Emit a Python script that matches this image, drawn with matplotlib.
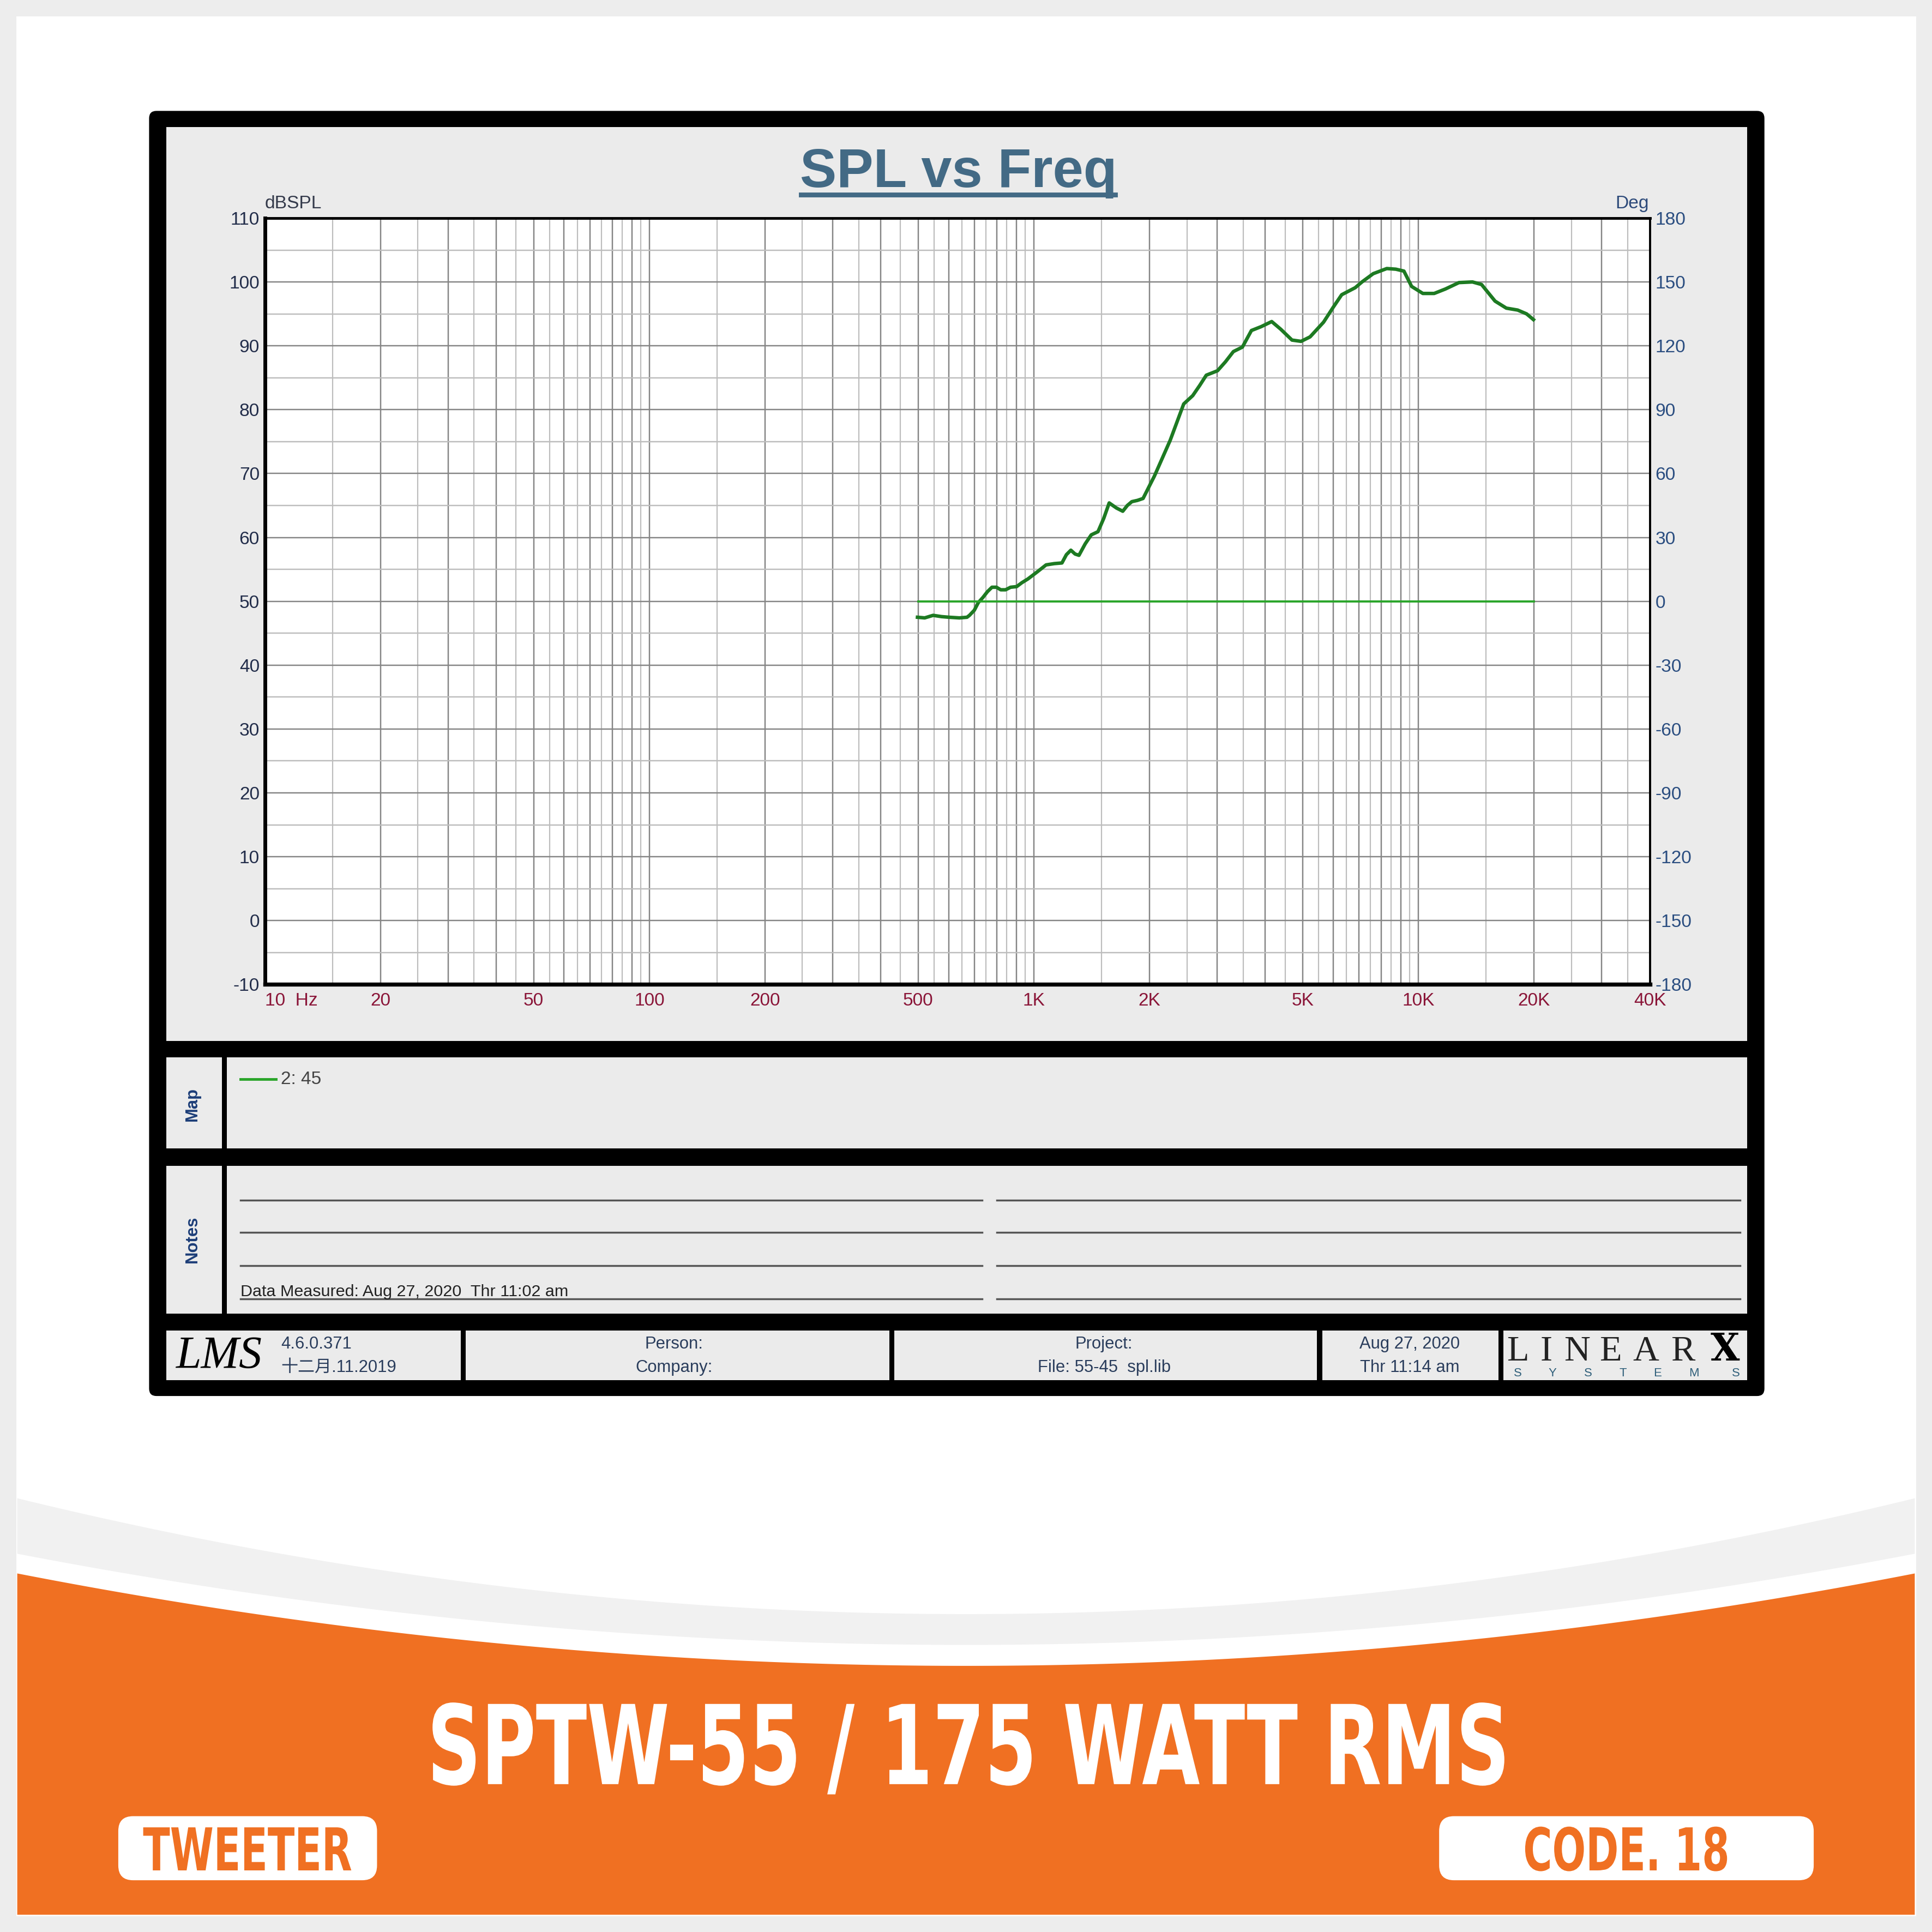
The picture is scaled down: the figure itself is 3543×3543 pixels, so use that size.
import numpy as np
import matplotlib.pyplot as plt
from matplotlib.patches import FancyBboxPatch, Polygon, Rectangle
from matplotlib.patheffects import AbstractPathEffect
from matplotlib.transforms import Affine2D

# SPL curve (Hz, dBSPL)
freq = [498, 520, 547, 575, 602, 640, 670, 680, 700, 717, 737, 757, 778, 799, 820,
        844, 870, 902, 930, 965, 1020, 1076, 1130, 1183, 1215, 1248, 1280, 1310,
        1360, 1410, 1468, 1520, 1570, 1640, 1703, 1750, 1798, 1860, 1923, 2058,
        2262, 2453, 2589, 2700, 2808, 3004, 3150, 3303, 3486, 3680, 3900, 4155,
        4386, 4692, 4953, 5228, 5668, 6000, 6318, 6850, 7134, 7633, 8276, 8736,
        9171, 9603, 10273, 10992, 11761, 12752, 13827, 14600, 15830, 16936, 18122,
        19125, 19925]
spl = [47.5, 47.4, 47.8, 47.6, 47.5, 47.4, 47.5, 47.8, 48.6, 49.8, 50.6, 51.5,
       52.2, 52.2, 51.8, 51.8, 52.2, 52.3, 52.9, 53.5, 54.6, 55.7, 55.9, 56.0,
       57.3, 58.0, 57.4, 57.2, 59.0, 60.4, 60.9, 63.0, 65.4, 64.6, 64.1, 65.0,
       65.6, 65.8, 66.1, 69.6, 75.2, 80.9, 82.2, 83.8, 85.4, 86.1, 87.5, 89.1,
       89.8, 92.4, 93.0, 93.8, 92.6, 90.9, 90.7, 91.4, 93.7, 96.0, 98.0, 99.1,
       100.0, 101.3, 102.1, 102.0, 101.7, 99.3, 98.2, 98.2, 98.9, 99.9, 100.0,
       99.6, 97.0, 95.9, 95.6, 95.0, 94.1]
# phase trace (Hz, deg)
phase_freq = [500, 20000]
phase_deg = [0, 0]

x_ticks = [10, 20, 50, 100, 200, 500, 1000, 2000, 5000, 10000, 20000, 40000]
x_labels = ['10  Hz', '20', '50', '100', '200', '500', '1K', '2K', '5K', '10K', '20K', '40K']
db_ticks = list(range(-10, 111, 10))
deg_ticks = list(range(-180, 181, 30))

plt.rcParams['font.family'] = ['Liberation Sans', 'Noto Sans CJK SC', 'DejaVu Sans']


class Squeeze(AbstractPathEffect):
    # narrows glyphs horizontally about the text centre (condensed look)
    def __init__(self, sx):
        super().__init__()
        self.sx = sx

    def draw_path(self, renderer, gc, tpath, affine, rgbFace=None):
        ext = tpath.get_extents()
        c = (ext.x0 + ext.x1) / 2
        t = Affine2D().translate(-c, 0).scale(self.sx, 1).translate(c, 0) + affine
        renderer.draw_path(gc, tpath, t, rgbFace)


fig = plt.figure(figsize=(10, 10), dpi=354.3)
fig.patch.set_facecolor('#ededed')

# page drawn in 1568x1568 pixel units
bg = fig.add_axes([0, 0, 1, 1])
bg.set_xlim(0, 1568)
bg.set_ylim(1568, 0)
bg.axis('off')

bg.add_patch(Rectangle((14, 14), 1540, 1540, color='white', zorder=0))

# orange band with curved top
xs = np.linspace(14, 1554, 200)
def arc(edge, mid):
    return mid - (mid - edge) * ((xs - 784) / 770) ** 2
top_g, bot_g = arc(1216, 1310), arc(1261, 1335)
band = np.vstack([np.column_stack([xs, top_g]), np.column_stack([xs[::-1], bot_g[::-1]])])
bg.add_patch(Polygon(band, closed=True, color='#f1f1f1', lw=0, zorder=1))
top_o = arc(1277, 1352)
orange = np.vstack([np.column_stack([xs, top_o]), [[1554, 1554], [14, 1554]]])
bg.add_patch(Polygon(orange, closed=True, color='#f07022', lw=0, zorder=1))

bg.text(786, 1448, 'SPTW-55 / 175 WATT RMS', color='white', fontsize=41,
        family='DejaVu Sans', fontweight='bold', ha='center', va='baseline',
        path_effects=[Squeeze(0.68)])
for x0, w, txt in [(96, 210, 'TWEETER'), (1168, 304, 'CODE. 18')]:
    bg.add_patch(FancyBboxPatch((x0, 1474), w, 52, boxstyle='round,pad=0,rounding_size=12',
                                color='white', lw=0, zorder=2))
    bg.text(x0 + w / 2, 1518, txt, color='#f07022', fontsize=22, family='DejaVu Sans',
            fontweight='bold', ha='center', va='baseline', zorder=3,
            path_effects=[Squeeze(0.67)])

# black LMS frame and panels
bg.add_patch(FancyBboxPatch((121, 90), 1311, 1043, boxstyle='round,pad=0,rounding_size=6',
                            color='black', lw=0, zorder=2))
panel = '#ebebeb'
def box(x0, y0, x1, y1):
    bg.add_patch(Rectangle((x0, y0), x1 - x0, y1 - y0, color=panel, lw=0, zorder=3))
box(135, 103, 1418, 845)
box(135, 858, 180, 932)
box(184, 858, 1418, 932)
box(135, 946, 180, 1066)
box(184, 946, 1418, 1066)
for x0, x1 in [(135, 374), (378, 722), (726, 1069), (1073, 1216), (1220, 1418)]:
    box(x0, 1080, x1, 1120)

# title and axis captions
bg.text(778, 152, 'SPL vs Freq', color='#436a85', fontsize=20.5, fontweight='bold',
        ha='center', va='baseline', zorder=4)
bg.plot([650, 905], [158, 158], color='#436a85', lw=1.8, zorder=4)
bg.text(215, 169, 'dBSPL', color='#33394a', fontsize=6.8, ha='left', va='baseline', zorder=4)
bg.text(1338, 169, 'Deg', color='#2d4a7a', fontsize=6.8, ha='right', va='baseline', zorder=4)
bg.text(1297, 776, 'LMS', color='black', fontsize=13, family='Liberation Serif',
        fontstyle='italic', ha='center', va='center', zorder=6)

# map / notes
navy = '#1c3d78'
bg.text(156, 896, 'Map', rotation=90, color=navy, fontsize=6.3, fontweight='bold',
        ha='center', va='center', zorder=4)
bg.text(156, 1006, 'Notes', rotation=90, color=navy, fontsize=6.3, fontweight='bold',
        ha='center', va='center', zorder=4)
bg.plot([195, 224], [876, 876], color='#2aa52a', lw=1.0, zorder=4)
bg.text(228, 876, '2: 45', color='#444444', fontsize=6.8, ha='left', va='center', zorder=4)
for yl in [974, 1000, 1027, 1054]:
    bg.plot([195, 797], [yl, yl], color='#555555', lw=0.7, zorder=4)
    bg.plot([809, 1412], [yl, yl], color='#555555', lw=0.7, zorder=4)
bg.text(195, 1052, 'Data Measured: Aug 27, 2020  Thr 11:02 am', color='#222222', fontsize=6.2,
        ha='left', va='baseline', zorder=5)

# footer
fc = '#2a3d5c'
bg.text(178, 1101, 'LMS', color='black', fontsize=17, family='Liberation Serif',
        fontstyle='italic', ha='center', va='center', zorder=4)
foot = [(228, 'left', '4.6.0.371', '十二月.11.2019'),
        (547, 'center', 'Person:', 'Company:'),
        (896, 'center', 'Project:', 'File: 55-45  spl.lib'),
        (1144, 'center', 'Aug 27, 2020', 'Thr 11:14 am')]
for fx, ha, l1, l2 in foot:
    bg.text(fx, 1091, l1, color=fc, fontsize=6.3, ha=ha, va='center', zorder=4)
    bg.text(fx, 1110, l2, color=fc, fontsize=6.3, ha=ha, va='center', zorder=4)
for cx, ch in zip([1232, 1255, 1280, 1307, 1336, 1366], 'LINEAR'):
    bg.text(cx, 1104, ch, color='#222222', fontsize=13.5, family='Liberation Serif',
            ha='center', va='baseline', zorder=4)
bg.text(1400, 1104, 'X', color='black', fontsize=14, fontweight='bold',
        family='DejaVu Serif', ha='center', va='baseline', zorder=4)
for cx, ch in zip([1232, 1260, 1289, 1317, 1345, 1375, 1409], 'SYSTEMS'):
    bg.text(cx, 1114.5, ch, color='#2f5f7a', fontsize=4.5, ha='center', va='center', zorder=4)

# graph axes
L, R, T, B = 215, 1339, 177, 799
ax = fig.add_axes([L / 1568, 1 - B / 1568, (R - L) / 1568, (B - T) / 1568])
ax.set_facecolor('white')
ax.set_xscale('log')
ax.set_xlim(10, 40000)
ax.set_ylim(-10, 110)

minor_x, major_x = [], []
for d in [10, 100, 1000, 10000]:
    for m in np.arange(1.0, 10.0, 0.5):
        f = m * d
        if f > 40000:
            continue
        (major_x if m == int(m) else minor_x).append(f)
for f in minor_x:
    ax.axvline(f, color='#bdbdbd', lw=0.45, zorder=1)
for f in major_x:
    ax.axvline(f, color='#858585', lw=0.5, zorder=1)
for yv in range(-10, 111, 5):
    ax.axhline(yv, color='#858585' if yv % 10 == 0 else '#bdbdbd', lw=0.5, zorder=1)

ax.plot(freq, spl, color='#1d7a22', lw=1.3, zorder=3)

ax.set_xticks(x_ticks)
ax.set_xticklabels(x_labels)
ax.minorticks_off()
ax.set_yticks(db_ticks)
ax.set_yticklabels([str(v) for v in db_ticks])
ax.tick_params(axis='x', length=0, pad=3, labelsize=6.8, labelcolor='#8a1538')
ax.tick_params(axis='y', length=0, pad=2, labelsize=6.8, labelcolor='#222d4a')
ax.get_xticklabels()[0].set_horizontalalignment('left')
for side, lw in [('left', 1.4), ('bottom', 1.5), ('top', 1.0), ('right', 0.8)]:
    ax.spines[side].set_color('black')
    ax.spines[side].set_linewidth(lw)

ax2 = ax.twinx()
ax2.set_ylim(-180, 180)
ax2.set_yticks(deg_ticks)
ax2.set_yticklabels([str(v) for v in deg_ticks])
ax2.tick_params(axis='y', length=0, pad=2, labelsize=6.8, labelcolor='#2a4d80')
ax2.plot(phase_freq, phase_deg, color='#2aa52a', lw=0.8, zorder=3)
for s in ax2.spines.values():
    s.set_visible(False)

fig.savefig('out.png', dpi=354.3, facecolor=fig.get_facecolor())
